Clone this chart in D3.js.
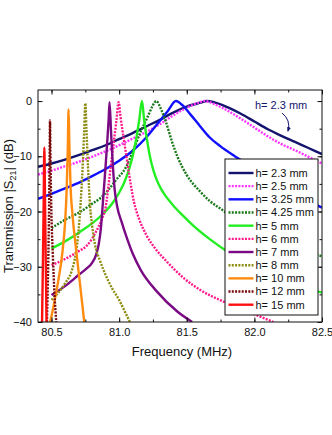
<!DOCTYPE html>
<html>
<head>
<meta charset="utf-8">
<script src="https://cdn.jsdelivr.net/npm/d3@7"></script>
<style>
    body { margin: 0; background: #fff; }
    text { font-family: "Liberation Sans", Arial, sans-serif; fill: #111; }
</style>
</head>
<body>
<div id="wrapper"></div>
<script>
// legend labels, in drawing order
const labels = ["h= 2.3 mm", "h= 2.5 mm", "h= 3.25 mm", "h= 4.25 mm", "h= 5 mm",
    "h= 6 mm", "h= 7 mm", "h= 8 mm", "h= 10 mm", "h= 12 mm", "h= 15 mm"]

// [frequency MHz, transmission dB]
const h23 = [[80.4,-11.9],[80.5,-11.3],[80.6,-10.6],[80.7,-9.8],[80.8,-8.9],[80.9,-8.0],[81.0,-6.9],
    [81.1,-5.8],[81.2,-4.6],[81.3,-3.4],[81.4,-2.1],[81.5,-1.0],[81.6,-0.3],[81.65,0],[81.7,-0.2],
    [81.8,-1.1],[81.9,-2.3],[82.0,-3.7],[82.1,-5.1],[82.2,-6.3],[82.3,-7.4],[82.4,-8.5],[82.5,-9.6]]
const h25 = [[80.4,-13.3],[80.5,-12.6],[80.6,-11.8],[80.7,-11.0],[80.8,-10.1],[80.9,-9.1],[81.0,-8.0],
    [81.1,-6.8],[81.2,-5.6],[81.3,-4.2],[81.4,-2.6],[81.5,-1.2],[81.6,-0.2],[81.63,0],[81.7,-0.5],
    [81.8,-1.7],[81.9,-3.2],[82.0,-4.8],[82.1,-6.4],[82.2,-7.8],[82.3,-8.9],[82.4,-10.1],[82.5,-11.3]]
const h325 = [[80.4,-17.7],[80.5,-16.8],[80.6,-15.8],[80.7,-14.8],[80.8,-13.6],[80.9,-12.3],[81.0,-10.8],
    [81.1,-9.0],[81.2,-6.6],[81.3,-3.6],[81.36,-1.8],[81.42,0],[81.47,-0.8],[81.53,-2.5],[81.6,-4.6],
    [81.67,-6.6],[81.75,-8.2],[81.85,-9.9],[82.0,-12.2],[82.1,-14.0],[82.2,-15.5],[82.3,-16.9],
    [82.4,-18.1],[82.5,-19.3]]
const h425 = [[80.5,-23.0],[80.6,-21.5],[80.71,-20.1],[80.8,-18.6],[80.86,-17.6],[80.93,-15.8],
    [80.98,-14.2],[81.05,-12.0],[81.1,-9.2],[81.16,-5.5],[81.21,-2.9],[81.245,-1.0],[81.274,0],
    [81.31,-1.5],[81.35,-4.1],[81.39,-7.3],[81.43,-10.0],[81.5,-13.4],[81.6,-16.4],[81.67,-18.1],
    [81.75,-19.5],[81.9,-22.0],[82.1,-24.5],[82.3,-26.5],[82.5,-28.1]]
const h5 = [[80.5,-26.7],[80.6,-25.4],[80.71,-23.7],[80.86,-20.9],[80.95,-18.5],[81.0,-16.6],
    [81.04,-14.6],[81.07,-12.6],[81.1,-10.0],[81.125,-7.0],[81.148,-3.5],[81.169,0],[81.185,-3.5],
    [81.206,-7.0],[81.23,-10.3],[81.254,-12.6],[81.28,-14.4],[81.31,-15.9],[81.35,-17.4],[81.4,-18.9],
    [81.47,-20.7],[81.55,-22.6],[81.67,-25.0],[81.78,-26.9],[81.9,-28.6],[82.0,-29.9],[82.2,-32.1],
    [82.35,-33.5],[82.5,-34.7]]
const h6 = [[80.5,-29.7],[80.6,-28.6],[80.7,-27.2],[80.76,-26.2],[80.8,-24.9],[80.83,-23.6],
    [80.87,-21.5],[80.9,-19.2],[80.92,-15.6],[80.94,-11.4],[80.96,-7.5],[80.98,-3.5],[80.996,-0.2],
    [81.01,-2.8],[81.033,-6.7],[81.06,-11.0],[81.085,-15.0],[81.11,-18.3],[81.15,-21.5],[81.2,-24.2],
    [81.27,-26.8],[81.35,-29.0],[81.48,-32.1],[81.6,-34.2],[81.78,-36.4],[81.97,-38.3],[82.14,-40]]
const h7 = [[80.5,-35.1],[80.6,-33.5],[80.7,-31.5],[80.76,-30.3],[80.8,-29.3],[80.83,-27.8],
    [80.85,-25.8],[80.865,-23.0],[80.878,-19.0],[80.89,-15.0],[80.902,-11.0],[80.913,-7.0],
    [80.922,-3.5],[80.929,-0.2],[80.94,-5.5],[80.949,-9.8],[80.966,-15.8],[80.984,-18.9],[81.02,-22.0],
    [81.06,-25.0],[81.1,-27.6],[81.16,-30.6],[81.28,-34.5],[81.43,-38.1],[81.54,-40]]
const h8 = [[80.5,-36.0],[80.55,-34.7],[80.6,-33.0],[80.65,-30.7],[80.68,-27.5],[80.7,-23.5],
    [80.715,-18.5],[80.73,-12.0],[80.742,-5.0],[80.75,-0.4],[80.758,-5.0],[80.77,-12.0],[80.785,-19.0],
    [80.8,-22.5],[80.82,-25.8],[80.86,-29.0],[80.9,-31.5],[80.95,-34.0],[81.0,-36.0],[81.04,-38.0],
    [81.08,-40]]
const h10 = [[80.49,-40],[80.52,-36.5],[80.55,-32.5],[80.58,-27.5],[80.6,-22.0],[80.612,-16.0],
    [80.62,-9.0],[80.626,-1.5],[80.632,-8.0],[80.64,-15.0],[80.655,-20.5],[80.68,-26.5],[80.71,-33.0],
    [80.742,-40]]
const h12 = [[80.466,-40],[80.475,-30],[80.482,-19],[80.486,-10],[80.489,-3.5],[80.492,-10],
    [80.498,-19],[80.51,-28],[80.522,-35],[80.535,-40]]
const h15 = [[80.43,-40],[80.437,-28],[80.442,-18],[80.447,-8.4],[80.452,-18],[80.457,-28],[80.463,-40]]

const xTicks = [80.5, 81.0, 81.5, 82.0, 82.5]
const yTicks = [0, -10, -20, -30, -40]

const seriesData = [h23, h25, h325, h425, h5, h6, h7, h8, h10, h12, h15]
const colors = ["#14146e", "#ff33ff", "#1010ff", "#1a7a1a", "#22ee22", "#ff1a8c",
    "#7a0a84", "#8c8c10", "#ff8c10", "#7a0a0a", "#ff1010"]
const dotted = [false, true, false, true, false, true, false, true, false, true, false]

function drawChart() {
    let dimensions = {
        width: 332,
        height: 435,
        margin: { top: 90, right: 10, bottom: 113, left: 38 },
    }
    dimensions.boundedWidth = dimensions.width - dimensions.margin.left - dimensions.margin.right
    dimensions.boundedHeight = dimensions.height - dimensions.margin.top - dimensions.margin.bottom

    const wrapper = d3.select("#wrapper")
        .append("svg")
        .attr("width", dimensions.width)
        .attr("height", dimensions.height)

    const bounds = wrapper.append("g")
        .attr("transform", `translate(${dimensions.margin.left},${dimensions.margin.top})`)

    const xScale = d3.scaleLinear()
        .domain([80.4, 82.5])
        .range([0, dimensions.boundedWidth])

    const yScale = d3.scaleLinear()
        .domain([-40, 2])
        .range([dimensions.boundedHeight, 0])

    bounds.append("clipPath").attr("id", "clip")
        .append("rect")
        .attr("width", dimensions.boundedWidth)
        .attr("height", dimensions.boundedHeight)

    const lineGen = d3.line()
        .x(d => xScale(d[0]))
        .y(d => yScale(d[1]))
        .curve(d3.curveMonotoneX)

    const lines = bounds.append("g").attr("clip-path", "url(#clip)")
    seriesData.forEach((s, i) => {
        lines.append("path")
            .attr("d", lineGen(s))
            .attr("fill", "none")
            .attr("stroke", colors[i])
            .attr("stroke-width", 2.4)
            .attr("stroke-dasharray", dotted[i] ? "2,1.3" : null)
    })

    // axes, ticks pointing inward on all four sides
    const minorX = d3.range(80.5, 82.51, 0.25)
    const minorY = d3.range(-40, 0.1, 5)

    const axes = [
        { gen: d3.axisBottom(xScale), major: xTicks, minor: minorX, t: `translate(0,${dimensions.boundedHeight})`, fmt: d3.format(".1f") },
        { gen: d3.axisTop(xScale), major: xTicks, minor: minorX, t: null, fmt: null },
        { gen: d3.axisLeft(yScale), major: yTicks, minor: minorY, t: null, fmt: d3.format("d") },
        { gen: d3.axisRight(yScale), major: yTicks, minor: minorY, t: `translate(${dimensions.boundedWidth},0)`, fmt: null },
    ]
    axes.forEach(a => {
        const minorG = bounds.append("g").attr("transform", a.t)
            .call(a.gen.tickValues(a.minor).tickSize(-2.5).tickFormat(""))
        minorG.select(".domain").remove()
        minorG.selectAll("line").attr("stroke", "#111")

        const majorG = bounds.append("g").attr("transform", a.t)
            .call(a.gen.tickValues(a.major).tickSize(-4.5).tickPadding(6)
                .tickFormat(a.fmt ? a.fmt : ""))
        majorG.select(".domain").remove()
        majorG.selectAll("line").attr("stroke", "#111")
        majorG.selectAll("text").style("font-size", "11px").attr("fill", "#111")
    })

    bounds.append("rect")
        .attr("width", dimensions.boundedWidth)
        .attr("height", dimensions.boundedHeight)
        .attr("fill", "none")
        .attr("stroke", "#111")
        .attr("stroke-width", 1)

    // axis titles
    bounds.append("text")
        .attr("x", dimensions.boundedWidth / 2 + 2)
        .attr("y", dimensions.boundedHeight + 34)
        .attr("text-anchor", "middle")
        .style("font-size", "13px")
        .text("Frequency (MHz)")

    const yLabel = bounds.append("text")
        .attr("transform", `translate(${-25},${dimensions.boundedHeight / 2}) rotate(-90)`)
        .attr("text-anchor", "middle")
        .style("font-size", "13px")
    yLabel.append("tspan").text("Transmission |S")
    yLabel.append("tspan").attr("dy", 3).style("font-size", "9px").text("21")
    yLabel.append("tspan").attr("dy", -3).text("| (dB)")

    // annotation
    const defs = wrapper.append("defs")
    defs.append("marker")
        .attr("id", "arrow")
        .attr("viewBox", "0 0 10 10")
        .attr("refX", 8).attr("refY", 5)
        .attr("markerWidth", 5).attr("markerHeight", 5)
        .attr("orient", "auto")
        .append("path").attr("d", "M0,1 L10,5 L0,9 Z").attr("fill", "#14146e")

    bounds.append("text")
        .attr("x", 217)
        .attr("y", 19)
        .style("font-size", "11px")
        .style("fill", "#14146e")
        .text("h= 2.3 mm")
    bounds.append("path")
        .attr("d", "M244,23 Q253,30 250,41")
        .attr("fill", "none")
        .attr("stroke", "#14146e")
        .attr("stroke-width", 1)
        .attr("marker-end", "url(#arrow)")

    // legend
    const legend = bounds.append("g").attr("transform", "translate(187,69)")
    legend.append("rect")
        .attr("width", 93)
        .attr("height", 156)
        .attr("fill", "#fff")
        .attr("stroke", "#111")
        .attr("stroke-width", 1)
    const rows = legend.selectAll("g.row")
        .data(labels)
        .enter().append("g")
        .attr("transform", (d, i) => `translate(0,${14 + i * 13.17})`)
    rows.append("line")
        .attr("x1", 3.5).attr("x2", 28.5)
        .attr("stroke", (d, i) => colors[i])
        .attr("stroke-width", 2.4)
        .attr("stroke-dasharray", (d, i) => dotted[i] ? "2,1.3" : null)
    rows.append("text")
        .attr("x", 30.5)
        .attr("dy", "0.36em")
        .style("font-size", "11px")
        .text(d => d)
}

drawChart()
</script>
</body>
</html>
